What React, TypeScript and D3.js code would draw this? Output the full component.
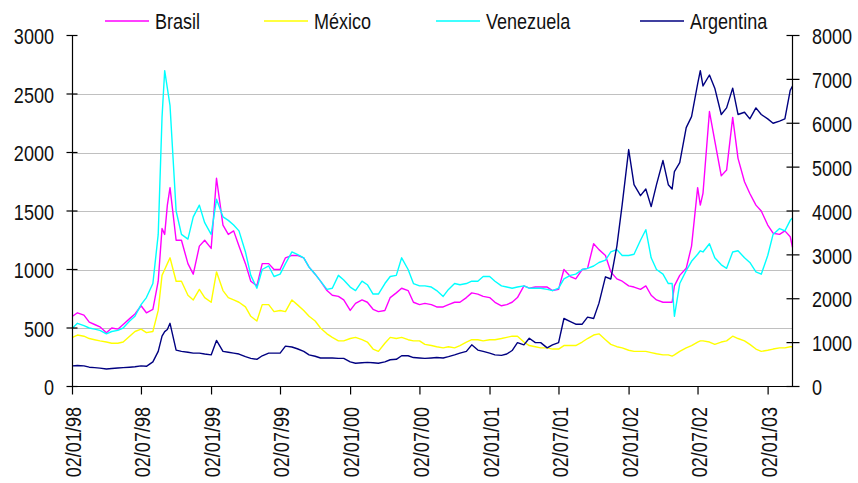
import React from "react";
import * as d3 from "d3";

const dates: string[] = [
  "1998-01-02","1998-01-15","1998-02-01","1998-02-15","1998-03-01","1998-03-15","1998-04-01","1998-04-15",
  "1998-05-01","1998-05-15","1998-06-01","1998-06-15","1998-07-01","1998-07-15","1998-08-01","1998-08-15",
  "1998-08-25","1998-09-01","1998-09-08","1998-09-15","1998-10-01","1998-10-15","1998-11-01","1998-11-15",
  "1998-12-01","1998-12-15","1999-01-01","1999-01-15","1999-02-01","1999-02-15","1999-03-01","1999-03-15",
  "1999-04-01","1999-04-15","1999-05-01","1999-05-15","1999-06-01","1999-06-15","1999-07-01","1999-07-15",
  "1999-08-01","1999-08-15","1999-09-01","1999-09-15","1999-10-01","1999-10-15","1999-11-01","1999-11-15",
  "1999-12-01","1999-12-15","2000-01-01","2000-01-15","2000-02-01","2000-02-15","2000-03-01","2000-03-15",
  "2000-04-01","2000-04-15","2000-05-01","2000-05-15","2000-06-01","2000-06-15","2000-07-01","2000-07-15",
  "2000-08-01","2000-08-15","2000-09-01","2000-09-15","2000-10-01","2000-10-15","2000-11-01","2000-11-15",
  "2000-12-01","2000-12-15","2001-01-01","2001-01-15","2001-02-01","2001-02-15","2001-03-01","2001-03-15",
  "2001-04-01","2001-04-15","2001-05-01","2001-05-15","2001-06-01","2001-06-15","2001-07-01","2001-07-15",
  "2001-08-01","2001-08-15","2001-09-01","2001-09-15","2001-10-01","2001-10-15","2001-11-01","2001-11-15",
  "2001-12-01","2001-12-15","2002-01-01","2002-01-15","2002-02-01","2002-02-15","2002-03-01","2002-03-15",
  "2002-04-01","2002-04-15","2002-04-25","2002-05-01","2002-05-15","2002-06-01","2002-06-15","2002-07-01",
  "2002-07-08","2002-07-15","2002-08-01","2002-08-15","2002-09-01","2002-09-15","2002-10-01","2002-10-15",
  "2002-11-01","2002-11-15","2002-12-01","2002-12-15","2003-01-01","2003-01-15","2003-02-01","2003-02-15",
  "2003-03-01","2003-03-07"
];

const brasil: number[] = [
  600,630,610,550,530,510,460,500,
  490,530,580,620,690,630,660,900,
  1350,1300,1550,1700,1250,1250,1050,960,
  1200,1250,1180,1780,1380,1300,1330,1200,
  1050,900,860,1050,1050,1000,1000,1100,
  1120,1120,1100,1020,960,900,820,780,
  770,740,650,710,740,720,660,640,
  650,760,800,840,820,720,700,710,
  700,680,680,700,720,720,760,800,
  790,770,760,720,690,700,720,760,
  860,840,850,850,850,820,830,1000,
  940,920,1000,1010,1220,1170,1120,980,
  920,900,860,850,830,860,780,740,
  720,720,720,860,950,1010,1200,1700,
  1550,1650,2350,2100,1800,1850,2300,1950,
  1750,1650,1550,1500,1380,1310,1300,1330,
  1280,1190
];

const mexico: number[] = [
  420,440,430,410,400,390,380,370,
  370,380,430,470,490,460,470,650,
  950,1000,1050,1100,900,900,780,740,
  830,760,720,980,820,760,740,720,
  680,600,560,700,700,640,650,640,
  740,700,650,600,560,500,450,420,
  390,390,410,420,400,380,320,300,
  370,420,410,420,400,390,390,360,
  350,340,330,340,330,350,380,400,
  400,390,400,400,410,420,430,430,
  380,350,340,330,330,320,320,350,
  350,350,380,410,440,450,400,360,
  340,330,310,300,300,300,290,280,
  270,270,260,270,300,330,350,380,
  390,390,380,360,380,390,430,410,
  390,360,320,300,310,320,330,330,
  340,340
];

const venezuela: number[] = [
  500,540,520,500,490,480,450,470,
  480,500,560,600,700,760,880,1300,
  2300,2700,2550,2400,1500,1300,1260,1450,
  1550,1400,1300,1600,1450,1420,1380,1330,
  1150,950,840,1000,1030,940,960,1050,
  1150,1130,1100,1020,960,900,830,840,
  950,910,850,820,900,870,790,790,
  880,940,950,1100,1000,880,860,860,
  850,820,770,830,880,870,880,900,
  900,940,940,900,860,850,840,850,
  860,840,840,840,830,820,840,920,
  950,960,1000,1010,1030,1060,1080,1150,
  1170,1120,1120,1130,1250,1340,1100,1000,
  960,880,880,600,880,990,1070,1130,
  1160,1150,1220,1100,1040,1010,1150,1160,
  1100,1060,980,960,1120,1300,1350,1330,
  1420,1440
];

const argentina: number[] = [
  470,480,470,440,430,420,400,410,
  420,430,440,450,470,460,560,800,
  1150,1250,1300,1440,830,800,780,760,
  760,740,720,1050,800,780,760,740,
  680,640,620,700,760,760,760,920,
  900,860,800,720,690,650,650,650,
  640,640,560,530,540,550,540,530,
  560,610,620,700,700,660,650,640,
  650,660,650,680,720,760,800,950,
  830,800,760,720,710,740,820,1000,
  950,1100,1000,1000,880,950,1000,1550,
  1480,1420,1420,1580,1550,1900,2500,2450,
  3200,4150,5400,4600,4350,4500,4100,4600,
  5150,4600,4500,4900,5100,5900,6150,6900,
  7200,6850,7100,6800,6200,6350,6800,6200,
  6250,6100,6350,6200,6100,6000,6050,6100,
  6750,6850
];

const seriesNames: string[] = ["Brasil", "México", "Venezuela", "Argentina"];
const seriesColors: string[] = ["#FF00FF", "#FFFF00", "#00FFFF", "#000080"];
const seriesAxis: string[] = ["left", "left", "left", "right"];

const leftTicks: number[] = [0, 500, 1000, 1500, 2000, 2500, 3000];
const rightTicks: number[] = [0, 1000, 2000, 3000, 4000, 5000, 6000, 7000, 8000];
const gridTicks: number[] = [500, 1000, 1500, 2000, 2500];
const xTickDates: string[] = [
  "1998-01-02","1998-07-02","1999-01-02","1999-07-02","2000-01-02","2000-07-02",
  "2001-01-02","2001-07-02","2002-01-02","2002-07-02","2003-01-02"
];
const xTickLabels: string[] = [
  "02/01/98","02/07/98","02/01/99","02/07/99","02/01/00","02/07/00",
  "02/01/01","02/07/01","02/01/02","02/07/02","02/01/03"
];

const W = 858;
const H = 483;
const plotLeft = 72.5;
const plotRight = 792.5;
const plotTop = 35.5;
const plotBottom = 386.5;
const FONT = "'Liberation Sans', Arial, sans-serif";
const FS = 22;
const SX = 0.82;

function NText(props: {
  x: number;
  y: number;
  anchor: "start" | "end" | "middle";
  rotate?: number;
  children: React.ReactNode;
}) {
  const r = props.rotate ? ` rotate(${props.rotate})` : "";
  return (
    <g transform={`translate(${props.x},${props.y})${r} scale(${SX},1)`}>
      <text
        x={0}
        y={0}
        textAnchor={props.anchor}
        dominantBaseline="central"
        fontSize={FS}
        fill="#111"
      >
        {props.children}
      </text>
    </g>
  );
}

export default function App() {
  const parse = d3.utcParse("%Y-%m-%d");
  const parsedDates = dates.map((d) => parse(d) as Date);
  const x = d3
    .scaleUtc()
    .domain([parse("1998-01-02") as Date, parse("2003-03-07") as Date])
    .range([plotLeft, plotRight]);
  const yL = d3.scaleLinear().domain([0, 3000]).range([plotBottom, plotTop]);
  const yR = d3.scaleLinear().domain([0, 8000]).range([plotBottom, plotTop]);

  const allSeries = [brasil, mexico, venezuela, argentina];

  const paths = allSeries.map((vals, i) => {
    const ys = seriesAxis[i] === "left" ? yL : yR;
    const line = d3
      .line<number>()
      .x((_, j) => x(parsedDates[j]))
      .y((v) => ys(v));
    return line(vals) || "";
  });

  const legendLineX = [105, 264, 436, 640];

  return (
    <svg
      width={W}
      height={H}
      style={{ position: "absolute", left: 0, top: 0, background: "#fff" }}
      fontFamily={FONT}
    >
      <rect x={0} y={0} width={W} height={H} fill="#fff" />
      {gridTicks.map((t) => (
        <line
          key={"g" + t}
          x1={plotLeft}
          x2={plotRight}
          y1={Math.round(yL(t)) + 0.5}
          y2={Math.round(yL(t)) + 0.5}
          stroke="#C0C0C0"
          strokeWidth={1.2}
        />
      ))}
      {paths.map((p, i) => (
        <path
          key={"s" + i}
          d={p}
          fill="none"
          stroke={seriesColors[i]}
          strokeWidth={1.4}
          strokeLinejoin="round"
        />
      ))}
      <line x1={plotLeft} x2={plotLeft} y1={plotTop} y2={plotBottom} stroke="#000" strokeWidth={1.2} />
      <line x1={plotRight} x2={plotRight} y1={plotTop} y2={plotBottom} stroke="#000" strokeWidth={1.2} />
      <line x1={plotLeft} x2={plotRight} y1={plotBottom} y2={plotBottom} stroke="#000" strokeWidth={1.2} />
      {leftTicks.map((t) => (
        <g key={"lt" + t}>
          <line x1={plotLeft - 6} x2={plotLeft + 5} y1={yL(t)} y2={yL(t)} stroke="#000" strokeWidth={1.2} />
          <NText x={54} y={yL(t) + 1} anchor="end">
            {t}
          </NText>
        </g>
      ))}
      {rightTicks.map((t) => (
        <g key={"rt" + t}>
          <line x1={plotRight - 6} x2={plotRight + 7} y1={yR(t)} y2={yR(t)} stroke="#000" strokeWidth={1.2} />
          <NText x={812} y={yR(t) + 1} anchor="start">
            {t}
          </NText>
        </g>
      ))}
      {xTickDates.map((d, i) => {
        const xx = x(parse(d) as Date);
        return (
          <g key={"xt" + d}>
            <line x1={xx} x2={xx} y1={plotBottom} y2={plotBottom + 8} stroke="#000" strokeWidth={1.2} />
            <NText x={xx + 1} y={407} anchor="end" rotate={-90}>
              {xTickLabels[i]}
            </NText>
          </g>
        );
      })}
      {seriesNames.map((n, i) => (
        <g key={"lg" + n}>
          <line
            x1={legendLineX[i]}
            x2={legendLineX[i] + 44}
            y1={21}
            y2={21}
            stroke={seriesColors[i]}
            strokeWidth={1.4}
          />
          <NText x={legendLineX[i] + 50} y={21} anchor="start">
            {n}
          </NText>
        </g>
      ))}
    </svg>
  );
}
